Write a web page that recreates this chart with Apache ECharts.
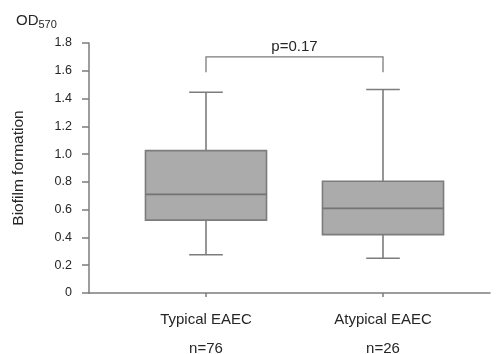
<!DOCTYPE html>
<html><head><meta charset="utf-8">
<script src="https://cdn.jsdelivr.net/npm/echarts@6/dist/echarts.min.js"></script>
<style>html,body{margin:0;padding:0;background:#fff}#c{width:497px;height:354px}</style>
</head><body><div id="c"></div>
<script>
const categories = ['Typical EAEC', 'Atypical EAEC'];
const groupSizes = ['n=76', 'n=26'];
const whiskerLow = [0.275, 0.25];
const q1 = [0.525, 0.42];
const median = [0.71, 0.61];
const q3 = [1.025, 0.805];
const whiskerHigh = [1.445, 1.465];
const bracketTop = 1.70;
const bracketEnd = 1.59;
const pLabel = 'p=0.17';
const yTicks = [0, 0.2, 0.4, 0.6, 0.8, 1.0, 1.2, 1.4, 1.6, 1.8];

const lineColor = '#7c7c7c';
const textColor = '#262626';
const font = 'Liberation Sans, Arial, sans-serif';

const boxData = categories.map((c, i) => [i, whiskerLow[i], q1[i], median[i], q3[i], whiskerHigh[i]]);

const chart = echarts.init(document.getElementById('c'));
chart.setOption({
  animation: false,
  textStyle: { fontFamily: font },
  title: {
    text: 'OD{sub|570}', left: 11, top: 7,
    textStyle: { fontSize: 15, fontWeight: 'normal', color: textColor, fontFamily: font,
      rich: { sub: { fontSize: 11, color: textColor, fontFamily: font, verticalAlign: 'bottom', padding: [7, 0, 0, 0] } } }
  },
  grid: [
    { left: 89, top: 43, right: 7, bottom: 61, outerBoundsMode: 'none' },
    { left: 117.5, top: 43, width: 354, bottom: 61, outerBoundsMode: 'none' }
  ],
  xAxis: [
    { type: 'value', gridIndex: 0, min: 0, max: 1, axisLine: { show: true, lineStyle: { color: lineColor, width: 1.5 } },
      axisTick: { show: false }, axisLabel: { show: false }, splitLine: { show: false } },
    { type: 'category', gridIndex: 1, data: categories, boundaryGap: true,
      axisLine: { show: false },
      axisTick: { show: true, alignWithLabel: true, length: 4, lineStyle: { color: lineColor, width: 1.5 } },
      axisLabel: { margin: 12, fontSize: 15, color: textColor, lineHeight: 29,
        formatter: (v, i) => v + '\n' + groupSizes[i] },
      splitLine: { show: false } }
  ],
  yAxis: [
    { type: 'value', gridIndex: 0, min: 0, max: 1.8, interval: 0.2,
      name: 'Biofilm formation', nameLocation: 'middle', nameGap: 62, nameRotate: 90,
      nameTextStyle: { fontSize: 15.5, color: textColor },
      axisLine: { show: true, lineStyle: { color: lineColor, width: 1.5 } },
      axisTick: { show: true, length: 7, lineStyle: { color: lineColor, width: 1.5 } },
      axisLabel: { margin: 17, fontSize: 12.5, color: textColor,
        formatter: v => { const t = yTicks.find(x => Math.abs(x - v) < 1e-6); return t === 0 ? '0' : t.toFixed(1); } },
      splitLine: { show: false } },
    { type: 'value', gridIndex: 1, min: 0, max: 1.8, interval: 0.2, show: false }
  ],
  series: [
    {
      type: 'custom', xAxisIndex: 1, yAxisIndex: 1, data: boxData,
      renderItem: function (params, api) {
        const x = api.value(0);
        const band = api.size([1, 0])[0];
        const bw = band * 0.684, cw = band * 0.19;
        const pLo = api.coord([x, api.value(1)]);
        const pQ1 = api.coord([x, api.value(2)]);
        const pMed = api.coord([x, api.value(3)]);
        const pQ3 = api.coord([x, api.value(4)]);
        const pHi = api.coord([x, api.value(5)]);
        const cx = pQ1[0];
        const ls = { stroke: lineColor, lineWidth: 1.6, fill: null };
        return { type: 'group', children: [
          { type: 'line', shape: { x1: cx, y1: pHi[1], x2: cx, y2: pQ3[1] }, style: ls },
          { type: 'line', shape: { x1: cx, y1: pQ1[1], x2: cx, y2: pLo[1] }, style: ls },
          { type: 'line', shape: { x1: cx - cw / 2, y1: pHi[1], x2: cx + cw / 2, y2: pHi[1] }, style: ls },
          { type: 'line', shape: { x1: cx - cw / 2, y1: pLo[1], x2: cx + cw / 2, y2: pLo[1] }, style: ls },
          { type: 'rect', shape: { x: cx - bw / 2, y: pQ3[1], width: bw, height: pQ1[1] - pQ3[1] },
            style: { fill: '#ababab', stroke: lineColor, lineWidth: 1.6 } },
          { type: 'line', shape: { x1: cx - bw / 2, y1: pMed[1], x2: cx + bw / 2, y2: pMed[1] }, style: { stroke: '#747474', lineWidth: 1.8 } }
        ] };
      }
    },
    {
      type: 'custom', xAxisIndex: 1, yAxisIndex: 1, data: [[0, 1, bracketTop, bracketEnd]],
      renderItem: function (params, api) {
        const a = api.coord([api.value(0), api.value(2)]);
        const b = api.coord([api.value(1), api.value(2)]);
        const ae = api.coord([api.value(0), api.value(3)]);
        const be = api.coord([api.value(1), api.value(3)]);
        return { type: 'group', children: [
          { type: 'polyline', shape: { points: [ae, a, b, be] }, style: { stroke: lineColor, lineWidth: 1.3, fill: null } },
          { type: 'text', x: (a[0] + b[0]) / 2, y: a[1] - 10,
            style: { text: pLabel, fill: textColor, fontSize: 15, fontFamily: font, align: 'center', verticalAlign: 'middle' } }
        ] };
      }
    }
  ]
});
</script></body></html>
